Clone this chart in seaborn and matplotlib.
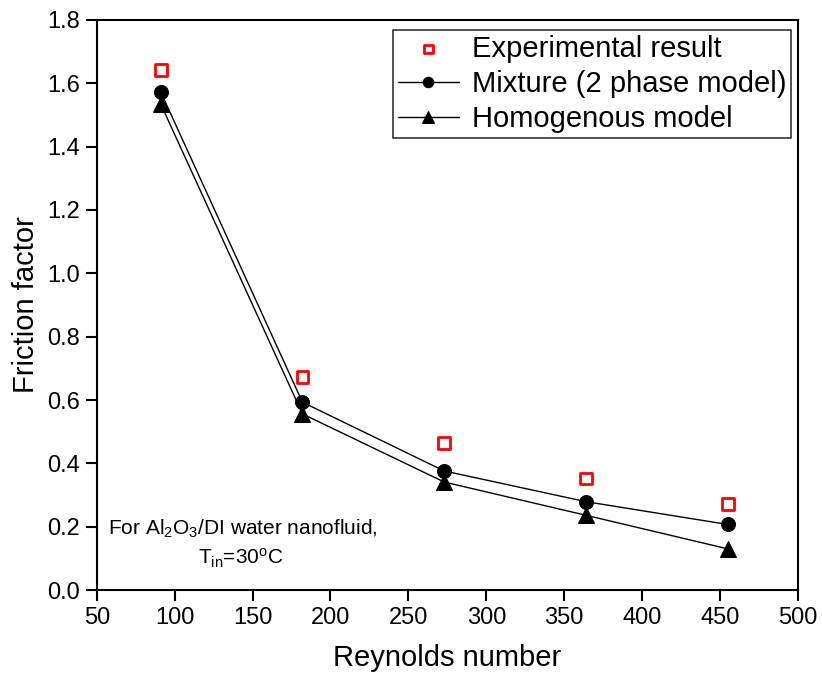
import matplotlib
matplotlib.use("Agg")
import matplotlib.pyplot as plt
import seaborn as sns
import pandas as pd

reynolds = [91, 182, 273, 364, 455]
experimental = [1.643, 0.672, 0.465, 0.352, 0.272]
mixture = [1.573, 0.593, 0.376, 0.279, 0.207]
homogenous = [1.535, 0.556, 0.341, 0.236, 0.130]

sns.set_theme(style="ticks")
plt.rcParams['font.family'] = ['Liberation Sans', 'DejaVu Sans']
plt.rcParams['mathtext.fontset'] = 'custom'
plt.rcParams['mathtext.rm'] = 'Liberation Sans'
plt.rcParams['mathtext.it'] = 'Liberation Sans'
plt.rcParams['text.color'] = 'black'
plt.rcParams['axes.labelcolor'] = 'black'

df = pd.DataFrame({"Re": reynolds, "exp": experimental, "mix": mixture, "hom": homogenous})

fig = plt.figure(figsize=(8.22, 6.73), dpi=100)
ax = fig.add_axes([0.1178, 0.1233, 0.8528, 0.847])

sns.lineplot(data=df, x="Re", y="mix", ax=ax, color="black", lw=1, marker="o",
             markersize=10, markeredgecolor="black", label="Mixture (2 phase model)")
sns.lineplot(data=df, x="Re", y="hom", ax=ax, color="black", lw=1, marker="^",
             markersize=11, markeredgecolor="black", label="Homogenous model")
sns.scatterplot(data=df, x="Re", y="exp", ax=ax, marker="s", s=70, facecolor="none",
                edgecolor="#ff0000", linewidth=2, label="Experimental result", zorder=5)

handles, labels = ax.get_legend_handles_labels()
order = [2, 0, 1]
leg = ax.legend([handles[i] for i in order], [labels[i] for i in order],
                loc="upper right", fontsize=21, frameon=True, fancybox=False,
                edgecolor="black", borderpad=0.15, handlelength=2.1, labelspacing=0.25,
                handletextpad=0.45, borderaxespad=0.2, markerscale=0.75,
                bbox_to_anchor=(0.9985, 0.992))
leg.get_frame().set_linewidth(1.2)

ax.set_xlim(50, 500)
ax.set_ylim(0, 1.8)
ax.set_xticks(range(50, 501, 50))
ax.set_yticks([i * 0.2 for i in range(10)])
ax.set_yticklabels([f"{i*0.2:.1f}" for i in range(10)])
ax.tick_params(axis="both", labelsize=17, direction="out", length=8, width=1.5,
               colors="black", pad=4)
for s in ax.spines.values():
    s.set_linewidth(1.5)
    s.set_color("black")

ax.set_xlabel("Reynolds number", fontsize=21, labelpad=11, color="black")
ax.set_ylabel("Friction factor", fontsize=21, labelpad=5, color="black")

ax.text(0.208, 0.108, r"For Al$_2$O$_3$/DI water nanofluid,", transform=ax.transAxes,
        fontsize=15, ha="center", va="center")
ax.text(0.205, 0.056, r"T$_{\mathrm{in}}$=30$^{\mathrm{o}}$C", transform=ax.transAxes,
        fontsize=15, ha="center", va="center")

fig.savefig("out.png", dpi=100)
